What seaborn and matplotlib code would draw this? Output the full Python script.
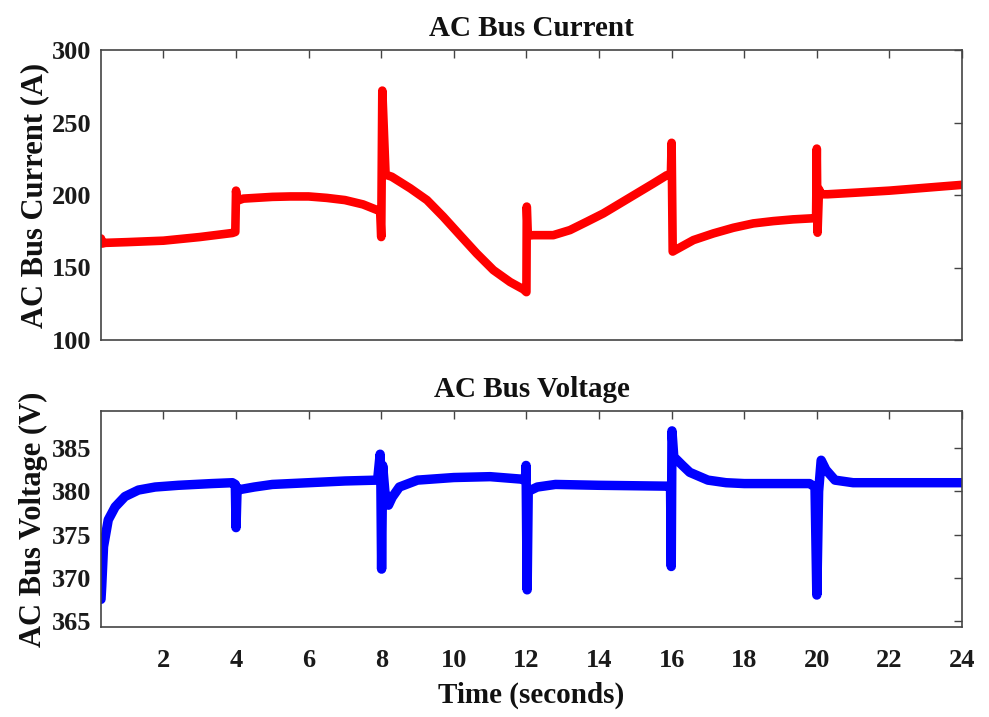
import numpy as np
import pandas as pd
import seaborn as sns
import matplotlib
matplotlib.use("Agg")
import matplotlib.pyplot as plt

# AC bus current trace (seconds, amps)
cur_t = [0.28, 0.31, 0.4, 1.0, 2.0, 3.0, 3.9, 3.98, 4.0, 4.03, 4.2, 5.0, 5.5, 6.0, 6.5,
         7.0, 7.5, 7.9, 7.97, 8.0, 8.03, 8.12, 8.29, 8.8, 9.26, 9.71, 10.17, 10.63, 11.09,
         11.55, 11.92, 12.0, 12.01, 12.04, 12.19, 12.74, 13.2, 13.66, 14.12, 14.58, 15.04,
         15.5, 15.87, 15.98, 16.0, 16.03, 16.1, 16.6, 17.15, 17.7, 18.25, 18.8, 19.35,
         19.86, 19.98, 20.0, 20.02, 20.06, 20.12, 20.3, 21.0, 22.0, 23.0, 24.0]
cur_a = [170, 166.5, 167, 167.5, 168.5, 171, 173.8, 174.5, 203, 196, 197.5, 198.7, 199, 199, 198,
         196.5, 193.5, 189.5, 189, 171, 272, 214, 212.6, 204.6, 196.5, 185, 172.3, 159.7, 148.2,
         140, 134.9, 133, 192, 172, 172.3, 172.3, 175.8, 181.5, 187.3, 194.2, 201.1,
         208, 213.7, 214, 236, 161, 162, 168.9, 173.5, 177.4, 180.4, 182, 183.2,
         183.9, 184, 232, 174, 204, 200.5, 200.5, 201.5, 203, 205, 207]

# AC bus voltage trace (seconds, volts)
volt_t = [0.28, 0.3, 0.35, 0.48, 0.67, 0.94, 1.31, 1.77, 2.41, 3.33, 3.9, 3.98, 4.0, 4.03,
          4.1, 4.5, 5.0, 6.0, 7.0, 7.9, 7.97, 7.99, 8.01, 8.04, 8.1, 8.2, 8.3, 8.5, 9.0,
          10.0, 11.0, 11.9, 11.97, 11.99, 12.02, 12.05, 12.3, 12.8, 14.0, 15.9, 15.97,
          15.99, 16.01, 16.06, 16.3, 16.5, 17.0, 17.5, 18.0, 19.8, 19.95, 20.0, 20.05,
          20.12, 20.25, 20.5, 21.0, 22.0, 24.0]
volt_v = [367.5, 369, 373.6, 376.7, 378.2, 379.4, 380.15, 380.5, 380.7, 380.9, 381, 380.8, 375.8, 380.4,
          380.2, 380.5, 380.8, 381, 381.2, 381.3, 384.3, 381, 371, 383, 380, 378.4, 379.3, 380.5, 381.3,
          381.6, 381.7, 381.4, 381.2, 383, 368.6, 380, 380.5, 380.8, 380.7, 380.6, 380.6,
          371.3, 387, 384, 383, 382.2, 381.3, 381, 380.9, 380.9, 380.5, 368, 380,
          383.6, 382.5, 381.3, 381, 381, 381]

x_ticks = list(range(2, 25, 2))
cur_ticks = [100, 150, 200, 250, 300]
volt_ticks = [365, 370, 375, 380, 385]

sns.set_theme(style="white")
plt.rcParams['font.family'] = ['Liberation Serif', 'DejaVu Serif']
plt.rcParams['font.weight'] = 'bold'

fig = plt.figure(figsize=(9.89, 7.17), dpi=100)
W, H = 989, 717
ax1 = fig.add_axes([101 / W, 1 - 340 / H, 861 / W, 290 / H])
ax2 = fig.add_axes([101 / W, 1 - 627 / H, 861 / W, 216 / H])

cur_df = pd.DataFrame({"t": cur_t, "i": cur_a})
volt_df = pd.DataFrame({"t": volt_t, "v": volt_v})

sns.lineplot(data=cur_df, x="t", y="i", ax=ax1, color="#ff0000", linewidth=6.2,
             estimator=None, sort=False, solid_capstyle="round", solid_joinstyle="round")
sns.lineplot(data=volt_df, x="t", y="v", ax=ax2, color="#0000ff", linewidth=6.8,
             estimator=None, sort=False, solid_capstyle="round", solid_joinstyle="round")

ax1.set_xlim(0.28, 24)
ax1.set_ylim(100, 300)
ax1.set_xticks(x_ticks)
ax1.set_xticklabels([])
ax1.set_yticks(cur_ticks)
ax1.set_xlabel("")
ax1.set_ylabel("AC Bus Current (A)", fontsize=22, fontweight="bold", labelpad=2)
ax1.set_title("AC Bus Current", fontsize=21, fontweight="bold", pad=10)

ax2.set_xlim(0.28, 24)
ax2.set_ylim(364.3, 389.3)
ax2.set_xticks(x_ticks)
ax2.set_yticks(volt_ticks)
ax2.set_xlabel("Time (seconds)", fontsize=21, fontweight="bold", labelpad=7)
ax2.set_ylabel("AC Bus Voltage (V)", fontsize=22, fontweight="bold", labelpad=3)
ax2.set_title("AC Bus Voltage", fontsize=21, fontweight="bold", pad=10)

for ax in (ax1, ax2):
    ax.tick_params(direction="in", top=True, right=True, length=6, width=1,
                   color="#444444", labelsize=19)
    ax.tick_params(axis="y", pad=7)
    ax.tick_params(axis="x", pad=16)
    for lab in ax.get_xticklabels() + ax.get_yticklabels():
        lab.set_fontweight("bold")
        lab.set_color("#1a1a1a")
    ax.title.set_color("#111111")
    ax.yaxis.label.set_color("#111111")
    ax.xaxis.label.set_color("#111111")
    for sp in ax.spines.values():
        sp.set_visible(True)
        sp.set_color("#444444")
        sp.set_linewidth(1.2)

fig.savefig("out.png", dpi=100)
